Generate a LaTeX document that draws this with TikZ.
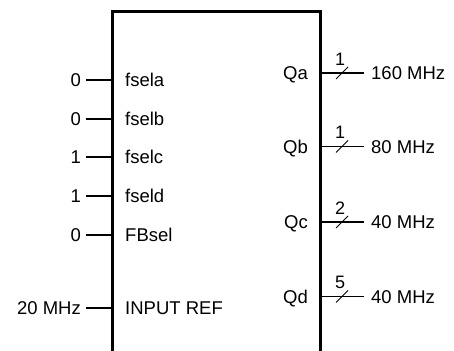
\documentclass[tikz,border=0pt]{standalone}
\usepackage{fontspec}
\setmainfont{Liberation Sans}
\begin{document}
\begin{tikzpicture}[x=1pt,y=-1pt,
  lbl/.style={font=\fontsize{18.5}{20}\selectfont,inner sep=0pt,text height=13.2pt,text depth=0pt},
  wnum/.style={font=\fontsize{18}{20}\selectfont,inner sep=0pt,text height=12.9pt,text depth=0pt},
  pin/.style={line width=1.8pt},
  boxline/.style={line width=3pt}]
\useasboundingbox (0,0) rectangle (454,350);
% box
\coordinate (bl) at (112.5,351);
\coordinate (tl) at (112.5,12);
\coordinate (tr) at (320,12);
\coordinate (br) at (320,351);
\draw[boxline,line join=miter] (bl) -- (tl) -- (tr) -- (br);
% left inputs
\foreach \nm/\val/\pinname/\y in {a/0/fsela/80, b/0/fselb/119, c/1/fselc/157, d/1/fseld/196, e/0/FBsel/235, f/20 MHz/INPUT REF/308}{
  \node[lbl,anchor=east] (v\nm) at (81,\y) {\val};
  \coordinate (s\nm) at (86,\y);
  \coordinate (p\nm) at (112.5,\y);
  \node[lbl,anchor=west] (n\nm) at (125,\y) {\pinname};
  \draw[pin] (s\nm) -- (p\nm);
}
% right outputs
\foreach \nm/\q/\w/\f/\y in {a/Qa/1/160 MHz/73, b/Qb/1/80 MHz/146.5, c/Qc/2/40 MHz/222, d/Qd/5/40 MHz/296.5}{
  \node[lbl,anchor=east] (q\nm) at (308,\y) {\q};
  \coordinate (o\nm) at (320,\y);
  \coordinate (e\nm) at (364,\y);
  \draw[pin] (o\nm) -- (e\nm);
  \coordinate (sa\nm) at (336,\y+6);
  \coordinate (sb\nm) at (348,\y-6);
  \draw[line width=1pt] (sa\nm) -- (sb\nm);
  \node[wnum,anchor=center] (w\nm) at (340,\y-14) {\w};
  \node[lbl,anchor=west] (f\nm) at (371,\y) {\f};
}
\end{tikzpicture}
\end{document}
